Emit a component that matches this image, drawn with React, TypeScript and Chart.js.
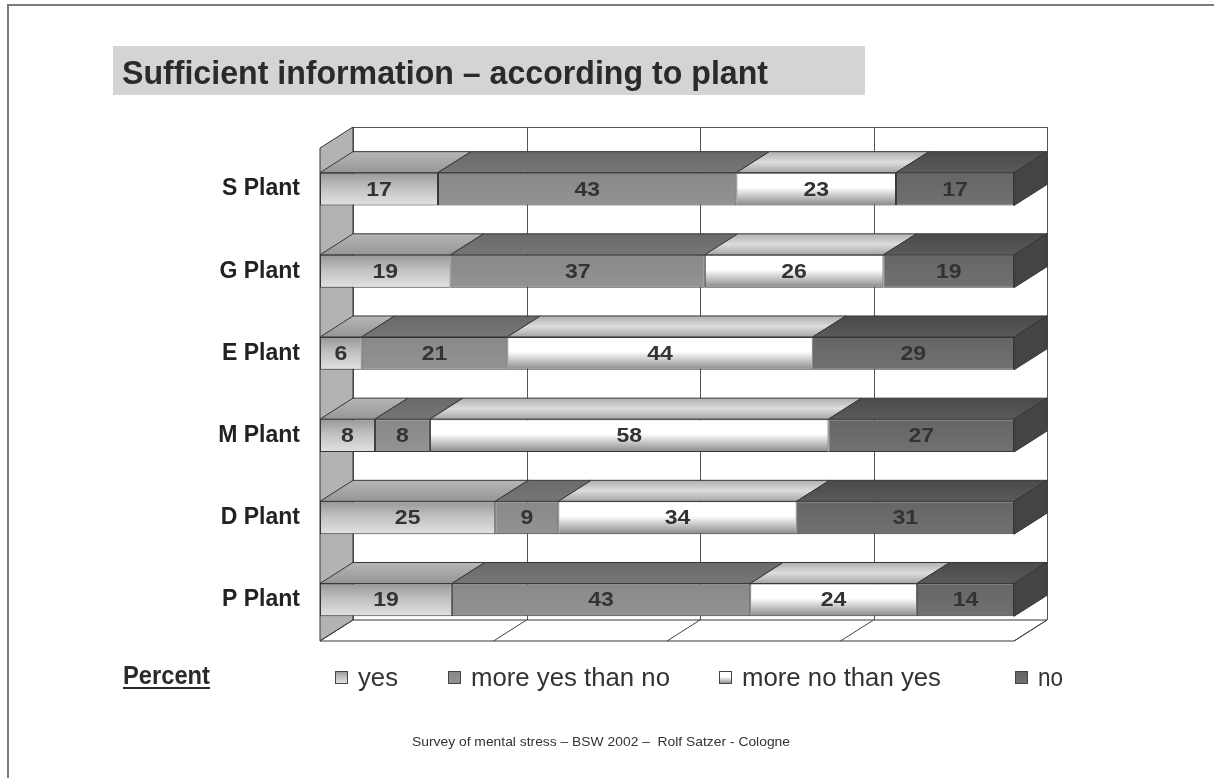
import React, { useEffect, useRef } from "react";
import { Chart, registerables } from "chart.js";
Chart.register(...registerables);

const plants = ["S Plant", "G Plant", "E Plant", "M Plant", "D Plant", "P Plant"];
const yesValues = [17, 19, 6, 8, 25, 19];
const moreYesValues = [43, 37, 21, 8, 9, 43];
const moreNoValues = [23, 26, 44, 58, 34, 24];
const noValues = [17, 19, 29, 27, 31, 14];
const seriesNames = ["yes", "more yes than no", "more no than yes", "no"];
const gridTicks = [0, 25, 50, 75, 100];
const titleText = "Sufficient information \u2013 according to plant";
const footerText = "Survey of mental stress \u2013 BSW 2002 \u2013  Rolf Satzer - Cologne";

const rawSeries = [yesValues, moreYesValues, moreNoValues, noValues];
const rowSums = plants.map((_, i) => rawSeries.reduce((s, arr) => s + arr[i], 0));
// 100% stacked: each row normalised to its own total (labels keep the raw values)
const pctSeries = rawSeries.map((arr) => arr.map((v, i) => (v / rowSums[i]) * 100));

const DX = 33;
const DY = 21;
const FONT = "'Liberation Sans', Arial, Helvetica, sans-serif";

const frontStops: [number, string][][] = [
  [[0, "#989898"], [0.45, "#c0c0c0"], [1, "#e2e2e2"]],
  [[0, "#88888a"], [1, "#939395"]],
  [[0, "#ffffff"], [0.45, "#ffffff"], [1, "#888888"]],
  [[0, "#656567"], [1, "#717173"]],
];
const topStops: [number, string][][] = [
  [[0, "#b6b6b6"], [1, "#969696"]],
  [[0, "#6a6a6c"], [1, "#767678"]],
  [[0, "#b0b0b0"], [0.5, "#dcdcdc"], [1, "#a6a6a6"]],
  [[0, "#4a4a4c"], [1, "#5a5a5c"]],
];
const sideColor = "#444446";
const edgeColor = "#363636";

function grad(ctx: CanvasRenderingContext2D, y0: number, y1: number, stops: [number, string][]) {
  if (!Number.isFinite(y0) || !Number.isFinite(y1) || y0 === y1) return stops[0][1];
  const g = ctx.createLinearGradient(0, y0, 0, y1);
  stops.forEach(([o, c]) => g.addColorStop(o, c));
  return g;
}

function poly(ctx: CanvasRenderingContext2D, pts: number[][], fill: any, stroke = edgeColor) {
  ctx.beginPath();
  ctx.moveTo(pts[0][0], pts[0][1]);
  for (let i = 1; i < pts.length; i++) ctx.lineTo(pts[i][0], pts[i][1]);
  ctx.closePath();
  if (fill) {
    ctx.fillStyle = fill;
    ctx.fill();
  }
  ctx.strokeStyle = stroke;
  ctx.lineWidth = 1;
  ctx.stroke();
}

function fitText(ctx: CanvasRenderingContext2D, text: string, x: number, y: number, width: number) {
  const w = ctx.measureText(text).width;
  ctx.save();
  ctx.translate(x, y);
  ctx.scale(width / w, 1);
  ctx.textAlign = "left";
  ctx.fillText(text, 0, 0);
  ctx.restore();
}

function wideText(ctx: CanvasRenderingContext2D, text: string, cx: number, cy: number, sx: number) {
  ctx.save();
  ctx.translate(cx, cy);
  ctx.scale(sx, 1);
  ctx.textAlign = "center";
  ctx.textBaseline = "middle";
  ctx.fillText(text, 0, 0);
  ctx.restore();
}

const threeD = {
  id: "threeD",
  beforeDraw(chart: any) {
    const ctx: CanvasRenderingContext2D = chart.ctx;
    ctx.save();
    ctx.fillStyle = "#ffffff";
    ctx.fillRect(0, 0, chart.width, chart.height);
    ctx.strokeStyle = "#7a7a7a";
    ctx.lineWidth = 2;
    ctx.beginPath();
    ctx.moveTo(8, chart.height);
    ctx.lineTo(8, 5);
    ctx.lineTo(chart.width, 5);
    ctx.stroke();
    ctx.fillStyle = "#d4d4d6";
    ctx.fillRect(113, 46, 752, 49);
    ctx.fillStyle = "#2a2a2a";
    ctx.font = `bold 34px ${FONT}`;
    ctx.textBaseline = "alphabetic";
    fitText(ctx, titleText, 122, 84, 646);
    ctx.restore();
  },
  beforeDatasetsDraw(chart: any) {
    const ctx: CanvasRenderingContext2D = chart.ctx;
    const a = chart.chartArea;
    const x = chart.scales.x;
    const bl = a.left + DX, bt = a.top - DY, br = a.right + DX, bb = a.bottom - DY;
    ctx.save();
    ctx.fillStyle = "#ffffff";
    ctx.fillRect(bl, bt, br - bl, bb - bt);
    ctx.strokeStyle = "#555555";
    ctx.lineWidth = 1;
    ctx.beginPath();
    gridTicks.forEach((v) => {
      const px = Math.round(x.getPixelForValue(v) + DX) + 0.5;
      ctx.moveTo(px, bt);
      ctx.lineTo(px, bb);
    });
    ctx.moveTo(bl, bt + 0.5);
    ctx.lineTo(br, bt + 0.5);
    ctx.stroke();
    poly(ctx, [[a.left, a.top], [bl, bt], [bl, bb], [a.left, a.bottom]], "#b3b3b3");
    poly(ctx, [[a.left, a.bottom], [bl, bb], [br, bb], [a.right, a.bottom]], "#ffffff");
    ctx.strokeStyle = "#444";
    ctx.beginPath();
    gridTicks.forEach((v) => {
      const px = x.getPixelForValue(v);
      ctx.moveTo(px + DX, bb);
      ctx.lineTo(px, a.bottom);
    });
    ctx.stroke();
    ctx.restore();
  },
  afterDatasetsDraw(chart: any) {
    const ctx: CanvasRenderingContext2D = chart.ctx;
    ctx.save();
    const n = chart.data.datasets.length;
    for (let d = 0; d < n; d++) {
      const meta = chart.getDatasetMeta(d);
      meta.data.forEach((bar: any, i: number) => {
        const p = bar.getProps(["x", "y", "base", "height"], true);
        const top = p.y - p.height / 2;
        const bottom = p.y + p.height / 2;
        const x0 = Math.min(p.base, p.x);
        const x1 = Math.max(p.base, p.x);
        poly(ctx, [[x0, top], [x0 + DX, top - DY], [x1 + DX, top - DY], [x1, top]], grad(ctx, top - DY, top, topStops[d]));
        if (d === n - 1) {
          poly(ctx, [[x1, top], [x1 + DX, top - DY], [x1 + DX, bottom - DY], [x1, bottom]], sideColor);
        }
        ctx.fillStyle = "#333333";
        ctx.font = `bold 20px ${FONT}`;
        wideText(ctx, String(rawSeries[d][i]), (x0 + x1) / 2, p.y + 1, 1.15);
      });
    }
    ctx.restore();
  },
  afterDraw(chart: any) {
    const ctx: CanvasRenderingContext2D = chart.ctx;
    ctx.save();
    ctx.fillStyle = "#2a2a2a";
    ctx.font = `bold 25px ${FONT}`;
    ctx.textBaseline = "alphabetic";
    fitText(ctx, "Percent", 123, 684, 87);
    ctx.fillRect(123, 687, 87, 2);
    const boxX = [335, 448, 719, 1015];
    const textW = [40, 199, 199, 25];
    ctx.font = `25px ${FONT}`;
    seriesNames.forEach((name, d) => {
      const bx = boxX[d] + 0.5, by = 671.5, s = 12;
      ctx.fillStyle = grad(ctx, by, by + s, frontStops[d]);
      ctx.fillRect(bx, by, s, s);
      ctx.strokeStyle = "#444";
      ctx.lineWidth = 1;
      ctx.strokeRect(bx, by, s, s);
      ctx.fillStyle = "#333333";
      fitText(ctx, name, boxX[d] + 23, 686, textW[d]);
    });
    ctx.font = `13px ${FONT}`;
    ctx.fillStyle = "#333333";
    fitText(ctx, footerText, 412, 746, 378);
    ctx.restore();
  },
};

export default function App() {
  const ref = useRef<HTMLCanvasElement>(null);
  useEffect(() => {
    if (!ref.current) return;
    const chart = new Chart(ref.current, {
      type: "bar",
      data: {
        labels: plants,
        datasets: seriesNames.map((name, d) => ({
          label: name,
          data: pctSeries[d],
          backgroundColor: (c: any) => {
            const ys = c.chart.scales?.y;
            if (c.dataIndex === undefined || !ys) return frontStops[d][0][1];
            const yc = ys.getPixelForValue(c.dataIndex);
            const band = Math.abs(ys.getPixelForValue(1) - ys.getPixelForValue(0));
            const h = (band * 0.4) / 2;
            return grad(c.chart.ctx, yc - h, yc + h, frontStops[d]);
          },
          borderColor: edgeColor,
          borderWidth: 1,
          borderSkipped: false,
          categoryPercentage: 1,
          barPercentage: 0.4,
        })),
      },
      options: {
        indexAxis: "y",
        responsive: false,
        animation: false,
        layout: { padding: { left: 0, right: 200, top: 148, bottom: 137 } },
        plugins: { legend: { display: false }, tooltip: { enabled: false } },
        scales: {
          x: { stacked: true, min: 0, max: 100, display: false },
          y: {
            stacked: true,
            grid: { display: false, drawTicks: false },
            border: { display: false },
            ticks: { padding: 20, color: "#222222", font: { family: FONT, size: 23, weight: "bold" } },
            afterFit: (s: any) => {
              s.width = 320;
            },
          },
        },
      },
      plugins: [threeD],
    } as any);
    return () => chart.destroy();
  }, []);
  return (
    <div style={{ position: "fixed", left: 0, top: 0, width: 1214, height: 778 }}>
      <canvas ref={ref} width={1214} height={778} style={{ width: 1214, height: 778, display: "block" }} />
    </div>
  );
}
